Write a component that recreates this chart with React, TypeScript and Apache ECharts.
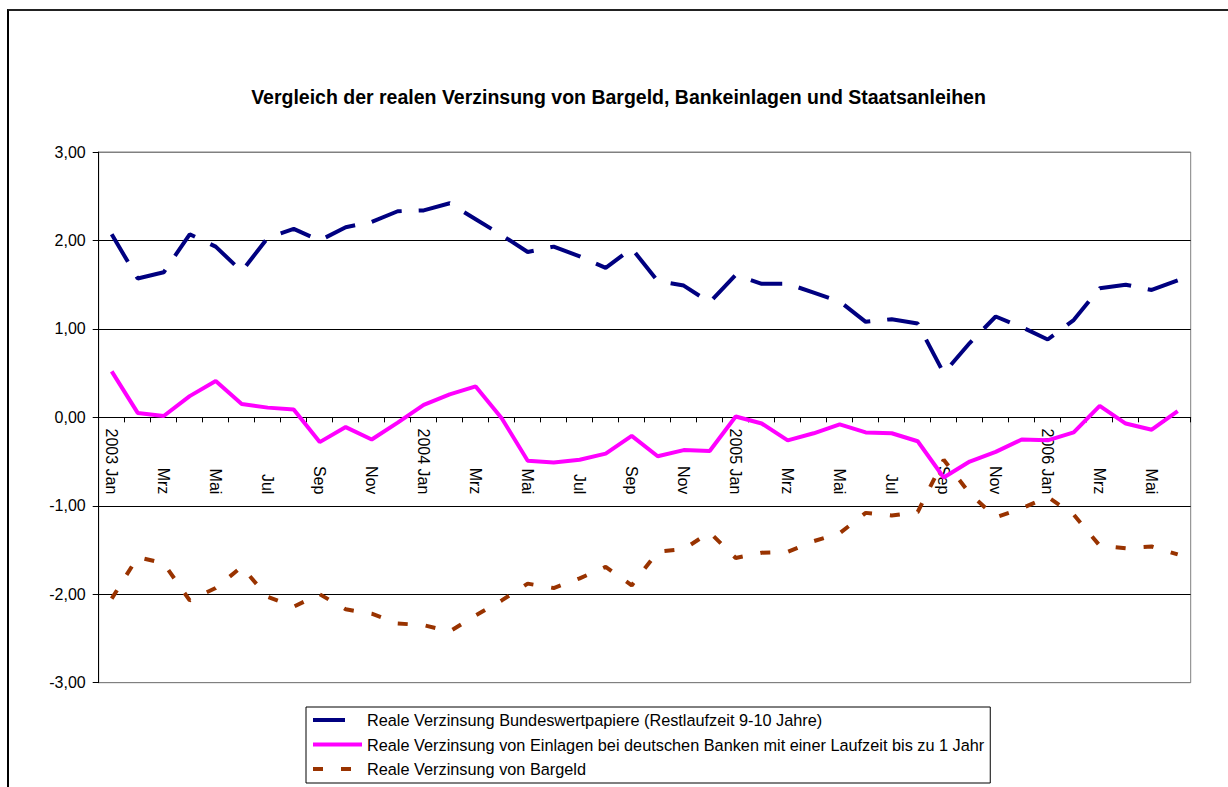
import React, { useEffect, useRef } from "react";
import * as echarts from "echarts";

const categories = [
  "2003-01", "2003-02", "2003-03", "2003-04", "2003-05", "2003-06", "2003-07", "2003-08", "2003-09", "2003-10", "2003-11", "2003-12",
  "2004-01", "2004-02", "2004-03", "2004-04", "2004-05", "2004-06", "2004-07", "2004-08", "2004-09", "2004-10", "2004-11", "2004-12",
  "2005-01", "2005-02", "2005-03", "2005-04", "2005-05", "2005-06", "2005-07", "2005-08", "2005-09", "2005-10", "2005-11", "2005-12",
  "2006-01", "2006-02", "2006-03", "2006-04", "2006-05", "2006-06",
];

const tickLabels = [
  "2003 Jan", "Feb", "Mrz", "Apr", "Mai", "Jun", "Jul", "Aug", "Sep", "Okt", "Nov", "Dez",
  "2004 Jan", "Feb", "Mrz", "Apr", "Mai", "Jun", "Jul", "Aug", "Sep", "Okt", "Nov", "Dez",
  "2005 Jan", "Feb", "Mrz", "Apr", "Mai", "Jun", "Jul", "Aug", "Sep", "Okt", "Nov", "Dez",
  "2006 Jan", "Feb", "Mrz", "Apr", "Mai", "Jun",
];

const bundeswertpapiere = [
  2.07, 1.57, 1.64, 2.07, 1.93, 1.65, 2.03, 2.13, 2.0, 2.15, 2.21, 2.33,
  2.34, 2.42, 2.24, 2.06, 1.87, 1.93, 1.82, 1.69, 1.91, 1.54, 1.49, 1.3,
  1.61, 1.51, 1.51, 1.41, 1.31, 1.08, 1.11, 1.06, 0.5, 0.84, 1.14, 1.02,
  0.88, 1.1, 1.46, 1.5, 1.44, 1.55,
];

const einlagen = [
  0.52, 0.05, 0.015, 0.24, 0.41, 0.15, 0.11, 0.09, -0.28, -0.11, -0.25, -0.06,
  0.14, 0.26, 0.35, -0.01, -0.49, -0.51, -0.48, -0.41, -0.21, -0.44, -0.37, -0.38,
  0.01, -0.07, -0.26, -0.18, -0.08, -0.17, -0.18, -0.27, -0.68, -0.5, -0.39, -0.25,
  -0.26, -0.17, 0.13, -0.07, -0.14, 0.07,
];

const bargeld = [
  -2.05, -1.58, -1.65, -2.07, -1.93, -1.69, -2.03, -2.14, -2.0, -2.17, -2.22, -2.33,
  -2.35, -2.42, -2.24, -2.07, -1.88, -1.93, -1.82, -1.69, -1.9, -1.52, -1.49, -1.3,
  -1.59, -1.53, -1.52, -1.4, -1.31, -1.08, -1.11, -1.07, -0.48, -0.86, -1.13, -1.03,
  -0.9, -1.1, -1.45, -1.48, -1.46, -1.55,
];

const seriesNames = [
  "Reale Verzinsung Bundeswertpapiere (Restlaufzeit 9-10 Jahre)",
  "Reale Verzinsung von Einlagen bei deutschen Banken mit einer Laufzeit bis zu 1 Jahr",
  "Reale Verzinsung von Bargeld",
];

const titleText = "Vergleich der realen Verzinsung von Bargeld, Bankeinlagen und Staatsanleihen";

const FONT = "'Liberation Sans', Arial, sans-serif";

const GRID_TOP = 141;
const GRID_HEIGHT = 530.7;
const Y_MIN = -3;
const Y_MAX = 3;
// shift the category axis up so that it crosses the value axis at 0
const ZERO_OFFSET = -(GRID_HEIGHT * (0 - Y_MIN)) / (Y_MAX - Y_MIN);

export default function App() {
  const ref = useRef<HTMLDivElement>(null);

  useEffect(() => {
    if (!ref.current) return;
    const chart = echarts.init(ref.current, undefined, { renderer: "svg" });
    chart.setOption({
      animation: false,
      textStyle: { fontFamily: FONT },
      title: {
        text: titleText,
        left: "center",
        top: 76,
        padding: 0,
        textStyle: { fontFamily: FONT, fontSize: 19.5, fontWeight: "bold", color: "#000" },
      },
      grid: {
        left: 89.7,
        top: GRID_TOP,
        width: 1092,
        height: GRID_HEIGHT,
        show: true,
        borderColor: "#808080",
        borderWidth: 1,
        backgroundColor: "transparent",
      },
      legend: {
        orient: "vertical",
        left: 297,
        top: 696,
        itemWidth: 49,
        itemHeight: 14,
        itemGap: 8.5,
        padding: [5, 6, 6, 5],
        borderColor: "#000",
        borderWidth: 1,
        backgroundColor: "#fff",
        lineStyle: { width: 4 },
        itemStyle: { opacity: 0, color: "rgba(0,0,0,0)", borderWidth: 0 },
        textStyle: { fontFamily: FONT, fontSize: 16.3, color: "#000" },
        data: seriesNames,
      },
      xAxis: {
        type: "category",
        data: categories,
        boundaryGap: true,
        offset: ZERO_OFFSET,
        axisLine: { onZero: false, lineStyle: { color: "#000", width: 1 } },
        axisTick: { show: true, interval: 0, length: 5, lineStyle: { color: "#000" } },
        axisLabel: {
          interval: 1,
          rotate: -90,
          align: "right",
          margin: 77,
          fontFamily: FONT,
          fontSize: 16,
          color: "#000",
          formatter: (_v: string, i: number) => tickLabels[i],
        },
        splitLine: { show: false },
      },
      yAxis: {
        type: "value",
        min: Y_MIN,
        max: Y_MAX,
        interval: 1,
        axisLine: { show: true, lineStyle: { color: "#000", width: 1 } },
        axisTick: { show: true, length: 6, lineStyle: { color: "#000" } },
        axisLabel: {
          margin: 13,
          fontFamily: FONT,
          fontSize: 16,
          color: "#000",
          formatter: (v: number) => v.toFixed(2).replace(".", ","),
        },
        splitLine: {
          show: true,
          lineStyle: {
            color: ["#808080", "#000", "#000", "#000", "#000", "#000", "#808080"],
            width: 1,
          },
        },
      },
      series: [
        {
          name: seriesNames[0],
          type: "line",
          data: bundeswertpapiere,
          symbol: "none",
          lineStyle: { color: "#000080", width: 4, type: [32, 17] },
          itemStyle: { color: "#000080" },
        },
        {
          name: seriesNames[1],
          type: "line",
          data: einlagen,
          symbol: "none",
          lineStyle: { color: "#FF00FF", width: 4, type: "solid" },
          itemStyle: { color: "#FF00FF" },
        },
        {
          name: seriesNames[2],
          type: "line",
          data: bargeld,
          symbol: "none",
          lineStyle: { color: "#993300", width: 4, type: [10, 18] },
          itemStyle: { color: "#993300" },
        },
      ],
    });
    return () => chart.dispose();
  }, []);

  return (
    <div
      style={{
        position: "absolute",
        left: 7,
        top: 9,
        width: 1219,
        height: 776,
        borderTop: "2px solid #222",
        borderLeft: "2px solid #000",
        background: "#fff",
      }}
    >
      <div ref={ref} style={{ width: 1219, height: 776 }} />
    </div>
  );
}
